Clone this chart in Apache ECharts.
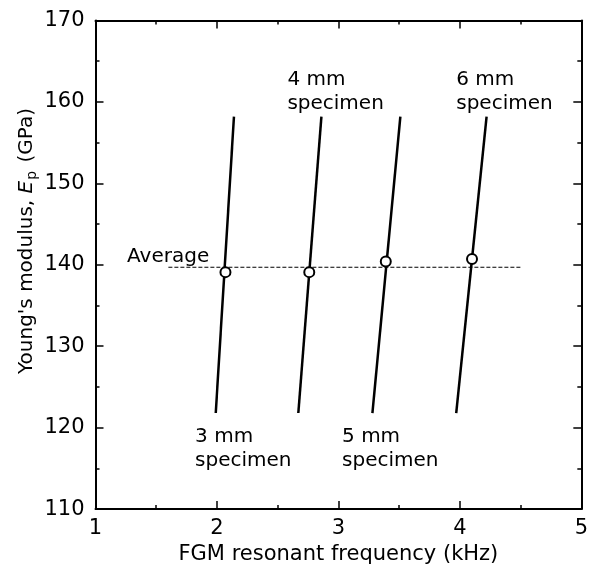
<!DOCTYPE html>
<html>
<head>
<meta charset="utf-8">
<script src="https://cdn.jsdelivr.net/npm/echarts@6/dist/echarts.min.js"></script>
<style>
  html, body { margin: 0; padding: 0; background: #fff; }
  #chart { width: 591px; height: 570px; }
</style>
</head>
<body>
<div id="chart"></div>
<script>
// 各试样的频率-模量直线（下端、上端）
const specimens = ['3 mm', '4 mm', '5 mm', '6 mm']
const lineBottomFreq = [1.99, 2.67, 3.28, 3.97]
const lineTopFreq = [2.14, 2.86, 3.51, 4.22]
const lineBottomModulus = [121.8, 121.8, 121.8, 121.8]
const lineTopModulus = [158.2, 158.2, 158.2, 158.2]

// 测得的共振频率与模量（空心圆）
const measuredFreq = [2.07, 2.76, 3.39, 4.10]
const measuredModulus = [139.1, 139.1, 140.4, 140.7]

// 平均值虚线
const averageModulus = 139.7
const averageFreqRange = [1.6, 4.5]

// 标注文字（左上角的数据坐标）
const noteText = ['3 mm\nspecimen', '4 mm\nspecimen', '5 mm\nspecimen', '6 mm\nspecimen', 'Average']
const noteFreq = [1.82, 2.58, 3.03, 3.97, 1.26]
const noteModulus = [120.3, 164.2, 120.3, 164.2, 142.5]

// 坐标轴刻度
const xMin = 1, xMax = 5, xStep = 1
const yMin = 110, yMax = 170, yStep = 10

const font = 'DejaVu Sans'
const chart = echarts.init(document.getElementById('chart'))

const specimenSeries = specimens.map((name, i) => ({
  name: name,
  type: 'line',
  symbol: 'none',
  silent: true,
  lineStyle: { color: '#000', width: 2.5 },
  data: [[lineBottomFreq[i], lineBottomModulus[i]], [lineTopFreq[i], lineTopModulus[i]]],
  z: 3
}))

const frameAxis = {
  axisLine: { show: true, lineStyle: { color: '#000', width: 2 } },
  axisTick: { show: true, inside: true, length: 8, lineStyle: { color: '#000', width: 1.5 } },
  minorTick: { show: true, splitNumber: 2, length: 4, lineStyle: { color: '#000', width: 1.5 } },
  splitLine: { show: false }
}

const option = {
  animation: false,
  backgroundColor: '#fff',
  grid: { left: 95.5, right: 8.5, top: 20.5, bottom: 59.5 },
  xAxis: [
    Object.assign({
      type: 'value', min: xMin, max: xMax, interval: xStep,
      name: 'FGM resonant frequency (kHz)',
      nameLocation: 'middle',
      nameGap: 30,
      nameTextStyle: { fontFamily: font, fontSize: 21, color: '#000' },
      axisLabel: { margin: 9, fontFamily: font, fontSize: 21, color: '#000' }
    }, frameAxis),
    Object.assign({
      type: 'value', min: xMin, max: xMax, interval: xStep, position: 'top',
      axisLabel: { show: false }
    }, frameAxis)
  ],
  yAxis: [
    Object.assign({
      type: 'value', min: yMin, max: yMax, interval: yStep,
      axisLabel: { margin: 11, fontFamily: font, fontSize: 21, color: '#000' }
    }, frameAxis),
    Object.assign({
      type: 'value', min: yMin, max: yMax, interval: yStep, position: 'right',
      axisLabel: { show: false }
    }, frameAxis)
  ],
  graphic: [{
    type: 'text',
    x: 27,
    y: 241,
    rotation: Math.PI / 2,
    style: {
      text: "Young's modulus, {i|E}{sub|p} (GPa)",
      fontFamily: font,
      fontSize: 20,
      fill: '#000',
      align: 'center',
      verticalAlign: 'middle',
      rich: {
        i: { fontFamily: font, fontSize: 20, fontStyle: 'italic', fill: '#000' },
        sub: { fontFamily: font, fontSize: 14, fill: '#000', padding: [10, 2, 0, 1] }
      }
    }
  }],
  series: specimenSeries.concat([
    {
      name: 'Average',
      type: 'line',
      symbol: 'none',
      silent: true,
      lineStyle: { color: '#000', width: 1.2, type: [4, 2] },
      data: averageFreqRange.map(f => [f, averageModulus]),
      z: 2
    },
    {
      name: 'measured',
      type: 'scatter',
      symbol: 'circle',
      symbolSize: 10,
      itemStyle: { color: '#fff', borderColor: '#000', borderWidth: 2, opacity: 1 },
      data: measuredFreq.map((f, i) => [f, measuredModulus[i]]),
      z: 5
    },
    {
      name: 'notes',
      type: 'scatter',
      symbolSize: 0,
      silent: true,
      itemStyle: { opacity: 1 },
      data: noteFreq.map((f, i) => ({ value: [f, noteModulus[i]], text: noteText[i] })),
      label: {
        show: true,
        position: [0, 0],
        align: 'left',
        verticalAlign: 'top',
        fontFamily: font,
        fontSize: 20,
        lineHeight: 24,
        color: '#000',
        opacity: 1,
        formatter: p => p.data.text
      },
      z: 4
    }
  ])
}

chart.setOption(option)
</script>
</body>
</html>
